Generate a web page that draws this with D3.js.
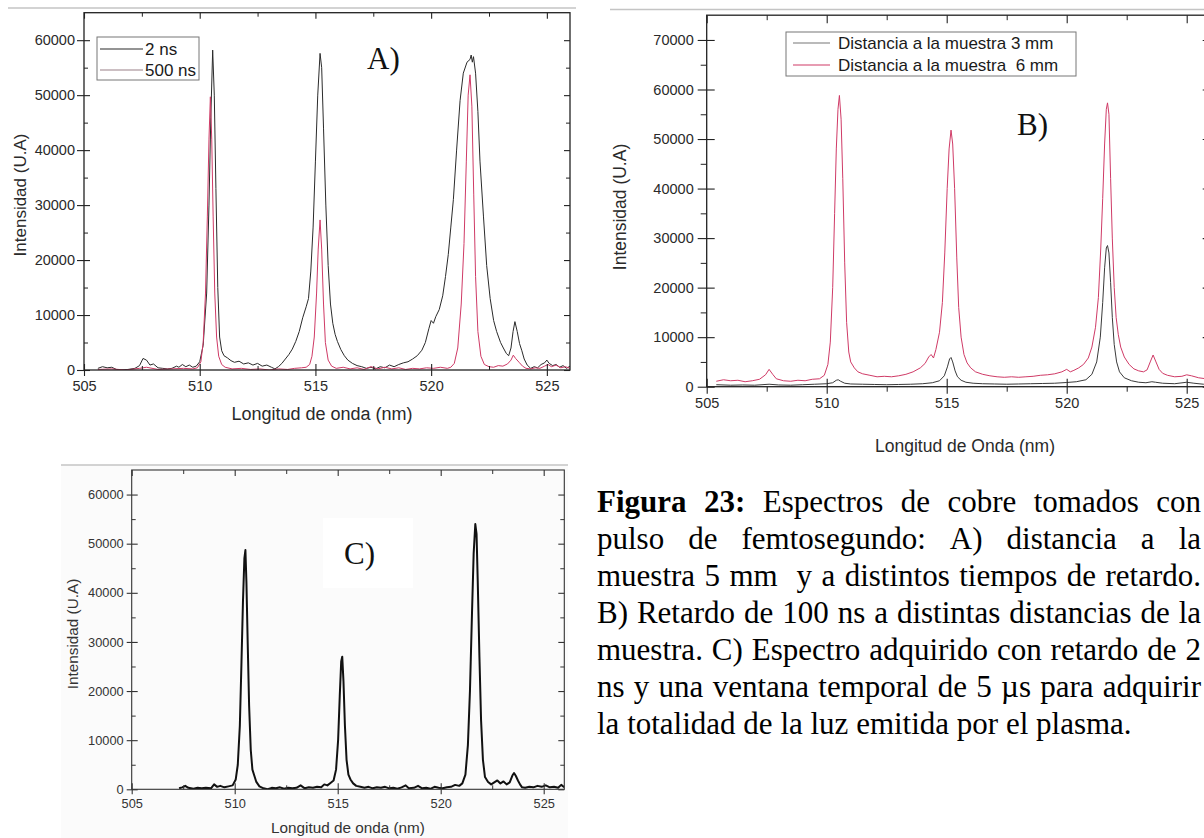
<!DOCTYPE html>
<html>
<head>
<meta charset="utf-8">
<script src="https://cdn.jsdelivr.net/npm/d3@7"></script>
<style>
  html, body { margin: 0; padding: 0; background: #ffffff; }
  svg { display: block; }
  text { white-space: pre; }
</style>
</head>
<body>
<script>
// ---------- tick values ----------
const wavelengthMajor = [505, 510, 515, 520, 525];
const wavelengthMinor = [507.5, 512.5, 517.5, 522.5];
const intensityMajor65 = [0, 10000, 20000, 30000, 40000, 50000, 60000];
const intensityMinor65 = [5000, 15000, 25000, 35000, 45000, 55000];
const intensityMajor75 = [0, 10000, 20000, 30000, 40000, 50000, 60000, 70000];
const intensityMinor75 = [5000, 15000, 25000, 35000, 45000, 55000, 65000];

// ---------- legends / titles ----------
const legendA = ["2 ns", "500 ns"];
const legendB = ["Distancia a la muestra 3 mm", "Distancia a la muestra  6 mm"];
const panelLetters = ["A)", "B)", "C)"];
const yTitle = "Intensidad (U.A)";
const xTitleA = "Longitud de onda (nm)";
const xTitleB = "Longitud de Onda (nm)";
const xTitleC = "Longitud de onda (nm)";

// ---------- spectra: [wavelength nm, intensity a.u.] ----------
// A) 5 mm from the sample, 2 ns delay
const spectrumA2ns = [
  [505.6,300],[505.8,600],[506.0,400],[506.2,500],[506.4,100],[506.6,0],[506.9,100],[507.2,300],
  [507.4,800],[507.55,2100],[507.7,1800],[507.85,900],[508.0,1100],[508.2,400],[508.4,300],[508.6,200],
  [508.8,300],[509.0,700],[509.1,500],[509.25,1000],[509.4,600],[509.55,900],[509.7,500],[509.85,700],
  [510.0,1500],[510.15,4500],[510.3,14000],[510.4,30000],[510.48,46000],[510.56,58200],[510.63,50000],
  [510.7,33000],[510.78,15000],[510.86,6000],[510.95,3500],[511.05,2600],[511.2,2200],[511.35,1700],
  [511.5,1400],[511.7,1600],[511.9,1100],[512.1,1300],[512.3,900],[512.5,1200],[512.7,700],[512.9,900],
  [513.1,500],[513.25,200],[513.4,600],[513.55,1200],[513.7,2000],[513.85,2800],[514.0,3800],[514.15,5200],
  [514.3,7000],[514.45,9500],[514.6,11500],[514.7,13000],[514.8,18000],[514.9,26000],[515.0,38000],
  [515.1,50000],[515.2,57600],[515.27,55000],[515.35,44000],[515.45,30000],[515.55,19000],[515.65,12000],
  [515.75,8500],[515.85,6500],[515.95,5200],[516.1,3700],[516.25,2600],[516.4,1800],[516.6,1200],
  [516.8,800],[517.0,600],[517.2,300],[517.4,500],[517.6,200],[517.8,600],[518.0,400],[518.2,900],
  [518.4,600],[518.6,1000],[518.8,1300],[519.0,1500],[519.2,2000],[519.4,2600],[519.6,3600],[519.75,5000],
  [519.9,7500],[520.0,9000],[520.1,8500],[520.2,9700],[520.35,11000],[520.5,13500],[520.62,17000],
  [520.74,21000],[520.85,26000],[520.96,31000],[521.1,40000],[521.25,49000],[521.39,54000],[521.55,56000],
  [521.68,56500],[521.73,57300],[521.78,56000],[521.83,57000],[521.92,54000],[522.02,47000],[522.11,38000],
  [522.26,28000],[522.4,19000],[522.55,13000],[522.7,9000],[522.83,7000],[523.0,5000],[523.12,4000],
  [523.25,3000],[523.35,2600],[523.45,4000],[523.54,7000],[523.62,8800],[523.72,7000],[523.82,4800],
  [523.92,3500],[524.02,2000],[524.15,900],[524.3,300],[524.45,600],[524.6,400],[524.75,1000],
  [524.9,1300],[525.0,1800],[525.1,1200],[525.25,800],[525.4,1000],[525.55,500],[525.7,800],[525.85,300],
  [526.0,700]
];
// A) 5 mm from the sample, 500 ns delay
const spectrumA500ns = [
  [505.6,100],[506.2,200],[506.8,0],[507.4,300],[507.7,500],[508.2,100],[508.8,200],[509.3,300],
  [509.7,200],[509.9,400],[510.05,1500],[510.15,5000],[510.25,14000],[510.33,28000],[510.4,42000],
  [510.46,49700],[510.52,42000],[510.58,28000],[510.65,14000],[510.73,6000],[510.82,2500],[510.95,1000],
  [511.1,500],[511.4,200],[511.8,300],[512.2,100],[512.6,200],[513.0,0],[513.4,200],[513.8,100],
  [514.1,300],[514.4,400],[514.6,500],[514.75,1000],[514.85,2500],[514.95,6000],[515.05,14000],
  [515.12,22000],[515.2,27300],[515.27,22000],[515.35,12000],[515.43,5000],[515.55,1800],[515.7,700],
  [515.9,300],[516.2,500],[516.5,200],[516.8,400],[517.1,100],[517.4,600],[517.7,200],[518.0,500],
  [518.3,200],[518.6,400],[518.9,100],[519.2,300],[519.5,200],[519.8,400],[520.1,300],[520.4,500],
  [520.7,300],[520.85,500],[521.0,1200],[521.15,4000],[521.3,12000],[521.42,23000],[521.52,38000],
  [521.6,50000],[521.68,53700],[521.76,48000],[521.84,32000],[521.92,17000],[522.02,7000],[522.15,2500],
  [522.3,1000],[522.5,600],[522.7,500],[522.9,800],[523.1,700],[523.3,1100],[523.45,1800],[523.55,2700],
  [523.65,2100],[523.8,1400],[523.95,700],[524.1,300],[524.3,200],[524.5,400],[524.7,300],[524.9,700],
  [525.05,1000],[525.2,600],[525.4,900],[525.6,400],[525.8,600],[526.0,300]
];
// B) 100 ns delay, 3 mm from the sample
const spectrumB3mm = [
  [505.4,400],[506.0,300],[506.5,350],[507.0,300],[507.6,500],[508.0,350],[508.5,300],[509.0,400],
  [509.5,500],[510.0,600],[510.25,800],[510.4,1300],[510.48,1400],[510.58,1100],[510.75,700],[511.0,550],
  [511.5,500],[512.0,450],[512.5,400],[513.0,450],[513.5,500],[514.0,600],[514.4,800],[514.7,1200],
  [514.9,2200],[515.03,4000],[515.12,5600],[515.18,5900],[515.25,5000],[515.35,3200],[515.45,2000],
  [515.6,1300],[515.8,900],[516.1,700],[516.5,600],[517.0,550],[517.5,500],[518.0,550],[518.5,600],
  [519.0,650],[519.5,700],[520.0,850],[520.4,1000],[520.8,1400],[521.05,2500],[521.25,5000],[521.4,10000],
  [521.5,17000],[521.58,24000],[521.65,28000],[521.7,28500],[521.76,27000],[521.83,21000],[521.9,14000],
  [521.98,8500],[522.08,5000],[522.2,3000],[522.4,1800],[522.7,1200],[523.0,900],[523.3,800],[523.55,1000],
  [523.7,900],[524.0,700],[524.5,600],[525.0,900],[525.3,700],[525.7,500],[526.1,450]
];
// B) 100 ns delay, 6 mm from the sample
const spectrumB6mm = [
  [505.4,1100],[505.7,1400],[506.0,1200],[506.3,1300],[506.6,1000],[506.9,1200],[507.2,1500],[507.45,2400],
  [507.6,3500],[507.75,2500],[507.9,1600],[508.2,1200],[508.5,1100],[508.8,1300],[509.1,1200],[509.4,1500],
  [509.7,1600],[509.9,2300],[510.05,4500],[510.15,9000],[510.25,20000],[510.33,35000],[510.4,48000],
  [510.47,56000],[510.53,58800],[510.6,54000],[510.67,42000],[510.75,25000],[510.83,13000],[510.92,7000],
  [511.0,5000],[511.15,3800],[511.3,3000],[511.5,2600],[511.8,2300],[512.1,2000],[512.4,2100],[512.7,2000],
  [513.0,2200],[513.3,2500],[513.6,3000],[513.9,3800],[514.1,4700],[514.25,6000],[514.35,6500],[514.45,5800],
  [514.55,7500],[514.7,11000],[514.82,17000],[514.92,27000],[515.02,40000],[515.1,48000],[515.18,51800],
  [515.25,49000],[515.33,40000],[515.42,26000],[515.5,16000],[515.6,10000],[515.72,6500],[515.85,4800],
  [516.0,3800],[516.2,3000],[516.5,2500],[516.8,2200],[517.1,2000],[517.4,1900],[517.7,2000],[518.0,1900],
  [518.3,2000],[518.6,2100],[518.9,2300],[519.2,2400],[519.5,2600],[519.8,3000],[520.0,3500],[520.15,3000],
  [520.3,3300],[520.5,3800],[520.7,4500],[520.9,5800],[521.05,8000],[521.2,12000],[521.32,18000],
  [521.42,28000],[521.5,38000],[521.58,49000],[521.65,56000],[521.7,57300],[521.76,55000],[521.83,42000],
  [521.9,30000],[521.98,20000],[522.06,14000],[522.15,10500],[522.25,8000],[522.4,6000],[522.6,4500],
  [522.8,3600],[523.0,3200],[523.2,3000],[523.35,3400],[523.48,5000],[523.6,6400],[523.72,5000],
  [523.85,3500],[524.0,2700],[524.2,2300],[524.5,2000],[524.8,2100],[525.0,2400],[525.2,2200],[525.5,1800],
  [525.8,1600],[526.1,1500]
];
// C) 2 ns delay, 5 us gate
const spectrumC = [
  [507.3,200],[507.45,400],[507.6,700],[507.75,300],[508.0,100],[508.2,300],[508.4,200],[508.6,300],
  [508.85,200],[509.0,1000],[509.15,500],[509.3,700],[509.5,400],[509.7,600],[509.9,800],[510.05,2000],
  [510.15,5000],[510.25,13000],[510.33,26000],[510.4,38000],[510.47,47000],[510.52,48700],[510.57,42000],
  [510.63,30000],[510.7,17000],[510.78,8000],[510.86,4000],[510.95,2800],[511.05,1500],[511.2,600],
  [511.4,200],[511.6,0],[511.8,300],[512.0,200],[512.2,400],[512.4,100],[512.6,300],[512.8,200],
  [513.0,300],[513.2,800],[513.4,200],[513.6,400],[513.8,300],[514.0,500],[514.2,400],[514.35,1000],
  [514.5,800],[514.65,1300],[514.8,1800],[514.92,4000],[515.02,10000],[515.1,19000],[515.17,26000],
  [515.22,27000],[515.28,22000],[515.35,13000],[515.43,6000],[515.52,3000],[515.62,2000],[515.75,1200],
  [515.9,700],[516.1,500],[516.3,300],[516.5,500],[516.7,200],[516.9,400],[517.1,300],[517.3,500],
  [517.5,200],[517.7,300],[517.9,100],[518.1,400],[518.3,800],[518.45,200],[518.7,300],[518.9,700],
  [519.1,200],[519.3,300],[519.5,100],[519.7,500],[519.9,300],[520.1,200],[520.3,400],[520.5,500],
  [520.7,900],[520.9,700],[521.05,1200],[521.2,3000],[521.32,9000],[521.42,20000],[521.52,36000],
  [521.6,48000],[521.68,54000],[521.74,52000],[521.8,42000],[521.88,27000],[521.96,14000],[522.05,6000],
  [522.15,2500],[522.3,1500],[522.45,1000],[522.6,1400],[522.75,1800],[522.9,1200],[523.05,1600],
  [523.2,1000],[523.35,1400],[523.48,2800],[523.56,3300],[523.65,2700],[523.75,1800],[523.85,1000],
  [523.95,400],[524.1,300],[524.3,500],[524.5,400],[524.7,700],[524.9,500],[525.1,800],[525.3,400],
  [525.5,500],[525.7,300],[525.85,900],[526.0,400]
];

// ---------- caption ----------
const captionLines = [
  "Figura 23: Espectros de cobre tomados con",
  "pulso de femtosegundo: A) distancia a la",
  "muestra 5 mm  y a distintos tiempos de retardo.",
  "B) Retardo de 100 ns a distintas distancias de la",
  "muestra. C) Espectro adquirido con retardo de 2",
  "ns y una ventana temporal de 5 \u00b5s para adquirir",
  "la totalidad de la luz emitida por el plasma."
];
const captionBoldWords = 2;

// ---------- drawing ----------
const W = 1204, H = 838;
const SANS = "'Liberation Sans', Arial, sans-serif";
const SERIF = "'Liberation Serif', 'Times New Roman', serif";
const RED = "#cf3a66";

const svg = d3.select("body").append("svg")
  .attr("width", W).attr("height", H)
  .attr("viewBox", `0 0 ${W} ${H}`);

const defs = svg.append("defs");

function styleTicks(sel, color, width) {
  sel.select(".domain").remove();
  sel.selectAll(".tick line").attr("stroke", color).attr("stroke-width", width);
}

function drawPanel(cfg) {
  const x = d3.scaleLinear().domain(cfg.xDomain).range([cfg.left, cfg.right]);
  const y = d3.scaleLinear().domain(cfg.yDomain).range([cfg.bottom, cfg.top]);
  const g = svg.append("g");

  // separator line above the panel
  g.append("line")
    .attr("x1", cfg.rule[0]).attr("x2", cfg.rule[1])
    .attr("y1", cfg.rule[2]).attr("y2", cfg.rule[2])
    .attr("stroke", "#c4c4c4").attr("stroke-width", 1.5);

  // clipping for curves
  defs.append("clipPath").attr("id", "clip-" + cfg.id)
    .append("rect")
    .attr("x", cfg.left).attr("y", cfg.top)
    .attr("width", cfg.right - cfg.left).attr("height", cfg.bottom - cfg.top);

  if (cfg.labelBox) {
    g.append("rect")
      .attr("x", cfg.labelBox[0]).attr("y", cfg.labelBox[1])
      .attr("width", cfg.labelBox[2]).attr("height", cfg.labelBox[3])
      .attr("fill", "#ffffff");
  }

  const line = d3.line().x(d => x(d[0])).y(d => y(d[1]));
  const curves = g.append("g").attr("clip-path", `url(#clip-${cfg.id})`);
  cfg.series.forEach(s => {
    curves.append("path")
      .datum(s.values)
      .attr("d", line)
      .attr("fill", "none")
      .attr("stroke", s.color)
      .attr("stroke-width", s.width)
      .attr("stroke-linejoin", "round");
  });

  const axColor = cfg.axisColor;
  const tk = cfg.ticks;

  // bottom axis: labelled outward major ticks, inward minor ticks
  g.append("g").attr("transform", `translate(0,${cfg.bottom})`)
    .call(d3.axisBottom(x).tickValues(wavelengthMajor).tickSize(tk.bOut).tickPadding(tk.bPad).tickFormat(d3.format("d")))
    .call(s => styleTicks(s, axColor, 1.1))
    .call(s => s.selectAll("text").attr("fill", cfg.labelColor)
      .style("font-family", SANS).style("font-size", cfg.tickFont + "px"));
  g.append("g").attr("transform", `translate(0,${cfg.bottom})`)
    .call(d3.axisBottom(x).tickValues(wavelengthMajor).tickSize(-tk.majIn).tickFormat(""))
    .call(s => styleTicks(s, axColor, 1.1));
  g.append("g").attr("transform", `translate(0,${cfg.bottom})`)
    .call(d3.axisBottom(x).tickValues(wavelengthMinor).tickSize(tk.minB).tickFormat(""))
    .call(s => styleTicks(s, axColor, 1));

  // top axis: inward ticks
  g.append("g").attr("transform", `translate(0,${cfg.top})`)
    .call(d3.axisTop(x).tickValues(wavelengthMajor).tickSize(-tk.majIn).tickFormat(""))
    .call(s => styleTicks(s, axColor, 1.1));
  g.append("g").attr("transform", `translate(0,${cfg.top})`)
    .call(d3.axisTop(x).tickValues(wavelengthMinor).tickSize(-tk.minIn).tickFormat(""))
    .call(s => styleTicks(s, axColor, 1));

  // left axis
  g.append("g").attr("transform", `translate(${cfg.left},0)`)
    .call(d3.axisLeft(y).tickValues(cfg.yMajor).tickSize(tk.lOut).tickPadding(tk.lPad).tickFormat(d3.format("d")))
    .call(s => styleTicks(s, axColor, 1.1))
    .call(s => s.selectAll("text").attr("fill", cfg.labelColor)
      .style("font-family", SANS).style("font-size", cfg.tickFont + "px"));
  g.append("g").attr("transform", `translate(${cfg.left},0)`)
    .call(d3.axisLeft(y).tickValues(cfg.yMajor).tickSize(-tk.majIn).tickFormat(""))
    .call(s => styleTicks(s, axColor, 1.1));
  g.append("g").attr("transform", `translate(${cfg.left},0)`)
    .call(d3.axisLeft(y).tickValues(cfg.yMinor).tickSize(tk.minL).tickFormat(""))
    .call(s => styleTicks(s, axColor, 1));

  // right axis: inward ticks
  g.append("g").attr("transform", `translate(${cfg.right},0)`)
    .call(d3.axisRight(y).tickValues(cfg.yMajor).tickSize(-tk.majIn).tickFormat(""))
    .call(s => styleTicks(s, axColor, 1.1));
  g.append("g").attr("transform", `translate(${cfg.right},0)`)
    .call(d3.axisRight(y).tickValues(cfg.yMinor).tickSize(-tk.minIn).tickFormat(""))
    .call(s => styleTicks(s, axColor, 1));

  // frame
  g.append("rect")
    .attr("x", cfg.left).attr("y", cfg.top)
    .attr("width", cfg.right - cfg.left).attr("height", cfg.bottom - cfg.top)
    .attr("fill", "none").attr("stroke", axColor).attr("stroke-width", cfg.frameWidth);

  // axis titles
  g.append("text")
    .attr("x", cfg.xTitlePos[0]).attr("y", cfg.xTitlePos[1])
    .attr("text-anchor", "middle")
    .attr("fill", cfg.labelColor)
    .style("font-family", SANS).style("font-size", cfg.xTitleFont + "px")
    .text(cfg.xTitle);
  g.append("text")
    .attr("transform", `translate(${cfg.yTitlePos[0]},${cfg.yTitlePos[1]}) rotate(-90)`)
    .attr("text-anchor", "middle")
    .attr("fill", cfg.labelColor)
    .style("font-family", SANS).style("font-size", cfg.titleFont + "px")
    .text(yTitle);

  // legend
  if (cfg.legend) {
    const L = cfg.legend;
    g.append("rect")
      .attr("x", L.box[0]).attr("y", L.box[1]).attr("width", L.box[2]).attr("height", L.box[3])
      .attr("fill", "#ffffff").attr("stroke", "#777").attr("stroke-width", 1);
    L.items.forEach((label, i) => {
      const ly = L.rows[i];
      g.append("line")
        .attr("x1", L.lineX[0]).attr("x2", L.lineX[1])
        .attr("y1", ly).attr("y2", ly)
        .attr("stroke", L.colors[i]).attr("stroke-width", 1.2);
      g.append("text")
        .attr("x", L.textX).attr("y", ly + L.font * 0.36)
        .attr("fill", "#1a1a1a")
        .style("font-family", SANS).style("font-size", L.font + "px")
        .text(label);
    });
  }

  // panel letter
  g.append("text")
    .attr("x", cfg.letterPos[0]).attr("y", cfg.letterPos[1])
    .attr("fill", "#111")
    .style("font-family", SERIF).style("font-size", "31px")
    .text(cfg.letter);
}

// light backdrop of panel C
svg.append("rect").attr("x", 61).attr("y", 465).attr("width", 507).attr("height", 373).attr("fill", "#fbfbfb");

drawPanel({
  id: "a", letter: panelLetters[0], letterPos: [367, 69],
  left: 84, right: 570, top: 12.7, bottom: 370,
  xDomain: [505, 526], yDomain: [0, 65000],
  yMajor: intensityMajor65, yMinor: intensityMinor65,
  rule: [8, 576, 8],
  axisColor: "#222", frameWidth: 1.3, labelColor: "#2a2a2a",
  tickFont: 14.5, titleFont: 17, xTitleFont: 18,
  ticks: { bOut: 6, bPad: 5, lOut: 7, lPad: 2, majIn: 6, minIn: 4, minB: -4, minL: -4 },
  xTitle: xTitleA, xTitlePos: [322, 420], yTitlePos: [26, 195],
  series: [
    { values: spectrumA2ns, color: "#2b2b2b", width: 1 },
    { values: spectrumA500ns, color: RED, width: 1 }
  ],
  legend: {
    box: [97, 37, 102, 43], lineX: [100, 143], textX: 145, rows: [49, 70], font: 17,
    items: legendA, colors: ["#2b2b2b", "#9a8088"]
  }
});

drawPanel({
  id: "b", letter: panelLetters[1], letterPos: [1017, 135],
  left: 706.7, right: 1210.7, top: 15.2, bottom: 386.7,
  xDomain: [505, 526], yDomain: [0, 75000],
  yMajor: intensityMajor75, yMinor: intensityMinor75,
  rule: [610, 1204, 9.5],
  axisColor: "#222", frameWidth: 1.3, labelColor: "#2a2a2a",
  tickFont: 14.5, titleFont: 17.5, xTitleFont: 17.5,
  ticks: { bOut: 7, bPad: 4, lOut: 9, lPad: 4, majIn: 8, minIn: 5, minB: 5, minL: 6 },
  xTitle: xTitleB, xTitlePos: [965, 452], yTitlePos: [626, 207],
  series: [
    { values: spectrumB6mm, color: RED, width: 1 },
    { values: spectrumB3mm, color: "#3a3a3a", width: 1 }
  ],
  legend: {
    box: [786, 32, 290, 44], lineX: [793, 830], textX: 838, rows: [43, 65], font: 17,
    items: legendB, colors: ["#777", RED]
  }
});

drawPanel({
  id: "c", letter: panelLetters[2], letterPos: [344, 564],
  left: 131.7, right: 564.3, top: 470, bottom: 789.3,
  xDomain: [505, 526], yDomain: [0, 65000],
  yMajor: intensityMajor65, yMinor: intensityMinor65,
  rule: [61, 568, 465],
  axisColor: "#333", frameWidth: 1.1, labelColor: "#333",
  tickFont: 12.8, titleFont: 15.3, xTitleFont: 15.3,
  ticks: { bOut: 5, bPad: 5, lOut: 5, lPad: 3, majIn: 6, minIn: 4, minB: -4, minL: -4 },
  xTitle: xTitleC, xTitlePos: [348, 833], yTitlePos: [78, 634],
  labelBox: [323, 518, 90, 70],
  series: [
    { values: spectrumC, color: "#111", width: 2 }
  ]
});

// ---------- justified caption ----------
const capX = 597, capRight = 1201, capBase = 512, capLead = 37, capFont = 31;

function measure(str, bold) {
  const probe = svg.append("text")
    .style("font-family", SERIF).style("font-size", capFont + "px")
    .style("font-weight", bold ? "bold" : "normal")
    .text(str);
  const w = probe.node().getComputedTextLength();
  probe.remove();
  return w;
}
const spaceWidth = measure("a a") - measure("aa");

captionLines.forEach((lineText, i) => {
  const t = svg.append("text")
    .attr("y", capBase + i * capLead)
    .attr("fill", "#000")
    .style("font-family", SERIF).style("font-size", capFont + "px");
  const tokens = lineText.split(" ");
  const bold = tokens.map((tok, k) => i === 0 && k < captionBoldWords);
  const widths = tokens.map((tok, k) => tok ? measure(tok, bold[k]) : 0);
  const gaps = tokens.length - 1;
  const justify = i < captionLines.length - 1;
  const gap = justify && gaps > 0 ? (capRight - capX - d3.sum(widths)) / gaps : spaceWidth;
  let cx = capX;
  tokens.forEach((tok, k) => {
    if (tok) {
      t.append("tspan")
        .attr("x", cx)
        .style("font-weight", bold[k] ? "bold" : "normal")
        .text(tok);
    }
    cx += widths[k] + gap;
  });
});
</script>
</body>
</html>
